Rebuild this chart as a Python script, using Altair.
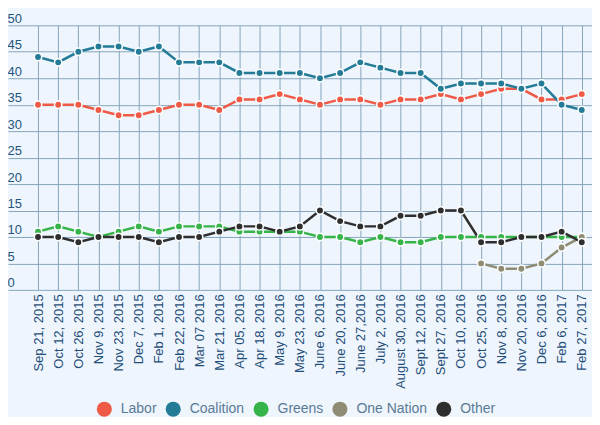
import altair as alt
import pandas as pd

dates = ["Sep 21, 2015", "Oct 12, 2015", "Oct 26, 2015", "Nov 9, 2015", "Nov 23, 2015",
         "Dec 7, 2015", "Feb 1, 2016", "Feb 22, 2016", "Mar 07 2016", "Mar 21, 2016",
         "Apr 05, 2016", "Apr 18, 2016", "May 9, 2016", "May 23, 2016", "June 6, 2016",
         "June 20, 2016", "June 27,2016", "July 2, 2016", "August 30, 2016", "Sept 12, 2016",
         "Sept 27, 2016", "Oct 10, 2016", "Oct 25, 2016", "Nov 8, 2016", "Nov 20, 2016",
         "Dec 6, 2016", "Feb 6, 2017", "Feb 27, 2017"]

labor = [35, 35, 35, 34, 33, 33, 34, 35, 35, 34, 36, 36, 37, 36, 35, 36, 36, 35, 36, 36,
         37, 36, 37, 38, 38, 36, 36, 37]
coalition = [44, 43, 45, 46, 46, 45, 46, 43, 43, 43, 41, 41, 41, 41, 40, 41, 43, 42, 41, 41,
             38, 39, 39, 39, 38, 39, 35, 34]
greens = [11, 12, 11, 10, 11, 12, 11, 12, 12, 12, 11, 11, 11, 11, 10, 10, 9, 10, 9, 9,
          10, 10, 10, 10, 10, 10, 10, 10]
one_nation = [None] * 22 + [5, 4, 4, 5, 8, 10]
other = [10, 10, 9, 10, 10, 10, 9, 10, 10, 11, 12, 12, 11, 12, 15, 13, 12, 12, 14, 14,
         15, 15, 9, 9, 10, 10, 11, 9]

parties = ["Labor", "Coalition", "Greens", "One Nation", "Other"]
colors = ["#EF5A47", "#237B96", "#36B44A", "#8F8C74", "#2E2E2E"]
y_ticks = [0, 5, 10, 15, 20, 25, 30, 35, 40, 45, 50]

series = [labor, coalition, greens, one_nation, other]
rows = []
for party, vals in zip(parties, series):
    for d, v in zip(dates, vals):
        if v is not None:
            rows.append({"date": d, "party": party, "value": v})
df = pd.DataFrame(rows)

x_enc = alt.X("date:N", sort=dates,
              scale=alt.Scale(type="point", padding=1, align=0.746),
              axis=alt.Axis(title=None, labelAngle=270, ticks=False, domain=False,
                            grid=True, gridColor="#86A6BC", gridWidth=1,
                            labelPadding=4, labelFontSize=13, labelFont="Arial",
                            labelColor="#1F4D78", labelOverlap=False))
y_enc = alt.Y("value:Q", scale=alt.Scale(domain=[0, 50], nice=False, zero=True),
              axis=alt.Axis(title=None, values=y_ticks, orient="left", ticks=False,
                            tickSize=0, domain=False, grid=True, gridColor="#86A6BC",
                            gridWidth=1, labelAlign="left", labelBaseline="alphabetic",
                            labelOffset=-3, labelPadding=1, labelFontSize=13,
                            labelFont="Arial", labelColor="#24557D"))

color_scale = alt.Scale(domain=parties, range=colors)

lines = alt.Chart(df).mark_line(strokeWidth=2.5).encode(
    x=x_enc, y=y_enc,
    color=alt.Color("party:N", scale=color_scale, legend=None),
)

points = alt.Chart(df).mark_circle(size=55, opacity=1, stroke="white", strokeWidth=1.5).encode(
    x=x_enc, y=y_enc,
    color=alt.Color("party:N", scale=color_scale,
                    legend=alt.Legend(title=None, orient="none", direction="horizontal",
                                      legendX=89, legendY=377, symbolType="circle",
                                      symbolSize=225, symbolStrokeWidth=0, symbolOpacity=1,
                                      labelFontSize=14, labelFont="Arial",
                                      labelColor="#5B7B96", labelOffset=9,
                                      columnPadding=9, padding=0)),
)

chart = alt.layer(lines, points).resolve_legend(color="independent").properties(
    width=585, height=265,
    autosize=alt.AutoSizeParams(type="none"),
    padding={"left": 0, "top": 17, "right": 0, "bottom": 127},
    background="#EEF5FD",
).configure_view(stroke=None)

chart.save("out.html", embed_options={"renderer": "svg", "actions": False})
